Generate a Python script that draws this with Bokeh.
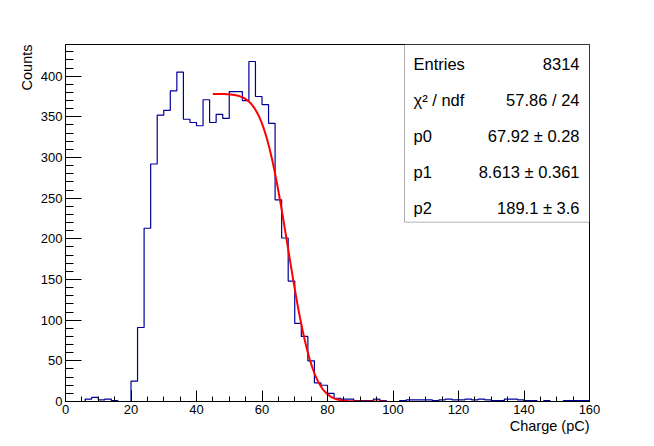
import math
import numpy as np
from bokeh.plotting import figure
from bokeh.models import SingleIntervalTicker, Label, BoxAnnotation, Range1d, Title
from bokeh.embed import file_html
from bokeh.resources import INLINE

# ---------------- data ----------------
bin_lo = 0.0
bin_hi = 160.0
bin_width = 2.0
counts = [
    0, 0, 0, 3, 5, 2, 3, 1, 0, 0,
    25, 91, 213, 292, 352, 358, 382, 405, 347, 343,
    339, 371, 343, 353, 348, 381, 381, 370, 418, 375,
    365, 342, 248, 201, 148, 96, 80, 50, 23, 20,
    10, 4, 3, 3, 1, 1, 1, 3, 1, 0,
    0, 1, 2, 2, 2, 2, 1, 2, 3, 2,
    2, 3, 2, 3, 2, 1, 1, 3, 3, 2,
    1, 1, 0, 1, 0, 0, 1, 1, 1, 1,
]
entries = 8314
chi2 = 57.86
ndf = 24
par_names = ["p0", "p1", "p2"]
par_values = [67.92, 8.613, 189.1]
par_errors = [0.28, 0.361, 3.6]
par_fmt = ["{:.2f}", "{:.3f}", "{:.1f}"]
err_fmt = ["{:.2f}", "{:.3f}", "{:.1f}"]
fit_range = [45.0, 98.0]
x_title = "Charge (pC)"
y_title = "Counts"

# ---------------- derived ----------------
edges = np.arange(bin_lo, bin_hi + bin_width / 2, bin_width)
cnt = np.array(counts, dtype=float)
hx = np.repeat(edges, 2)[1:-1]
hy = np.repeat(cnt, 2)
ymax = 1.05 * cnt.max()

p0, p1, p2 = par_values
fx = np.linspace(fit_range[0], fit_range[1], 300)
fy = np.array([p2 * math.erfc((x - p0) / p1) for x in fx])

FONT = "Liberation Sans"

p = figure(width=654, height=446, output_backend="svg", toolbar_location=None,
           x_range=Range1d(bin_lo, bin_hi), y_range=Range1d(0, ymax),
           min_border_left=65, min_border_right=65, min_border_top=44,
           min_border_bottom=45)
p.background_fill_color = "white"
p.border_fill_color = "white"
p.outline_line_color = "black"
p.outline_line_width = 1
p.xgrid.visible = False
p.ygrid.visible = False

p.xaxis.ticker = SingleIntervalTicker(interval=20, num_minor_ticks=4)
p.yaxis.ticker = SingleIntervalTicker(interval=50, num_minor_ticks=5)
for ax in (p.xaxis, p.yaxis):
    ax.axis_line_color = "black"
    ax.major_tick_line_color = "black"
    ax.minor_tick_line_color = "black"
    ax.major_tick_out = 0
    ax.minor_tick_out = 0
    ax.major_label_text_font = FONT
    ax.major_label_text_font_size = "13px"
    ax.major_label_text_color = "black"
    ax.major_label_standoff = 3
p.xaxis.major_tick_in = 11
p.xaxis.minor_tick_in = 5
p.yaxis.major_tick_in = 16
p.yaxis.minor_tick_in = 8

# axis titles, right-aligned at the frame ends (ROOT style)
p.add_layout(Title(text=x_title, align="right", text_font=FONT,
                   text_font_size="14.5px", text_font_style="normal",
                   text_color="black", standoff=-2), "below")
p.add_layout(Title(text=y_title, align="right", text_font=FONT,
                   text_font_size="14.5px", text_font_style="normal",
                   text_color="black", standoff=5), "left")

p.line(hx, hy, line_color="#000099", line_width=1.2)
p.line(fx, fy, line_color="#ff0000", line_width=2)

# stats box
frame_w = 524.0
frame_h = 357.0
box_left = bin_hi - 185.0 * (bin_hi - bin_lo) / frame_w
box_bottom = ymax - 177.7 * ymax / frame_h
p.add_layout(BoxAnnotation(left=box_left, right=bin_hi, bottom=box_bottom, top=ymax,
                           fill_color="white", fill_alpha=1.0,
                           line_color="black", line_width=1))

left_txt = ["Entries", "\u03c7\u00b2 / ndf"] + par_names
right_txt = [str(entries), "{:.2f} / {}".format(chi2, ndf)] + [
    (par_fmt[i].format(par_values[i]) + " \u00b1 " + err_fmt[i].format(par_errors[i]))
    for i in range(3)]
for i, (lt, rt) in enumerate(zip(left_txt, right_txt)):
    off = -(19.8 + i * 35.8)
    p.add_layout(Label(x=box_left, y=ymax, x_offset=9, y_offset=off, text=lt,
                       text_align="left", text_baseline="alphabetic",
                       text_font=FONT, text_font_size="16.5px", text_color="black"))
    p.add_layout(Label(x=bin_hi, y=ymax, x_offset=-10, y_offset=off, text=rt,
                       text_align="right", text_baseline="alphabetic",
                       text_font=FONT, text_font_size="16.5px", text_color="black"))

open("out.html", "w").write(file_html(p, INLINE))
